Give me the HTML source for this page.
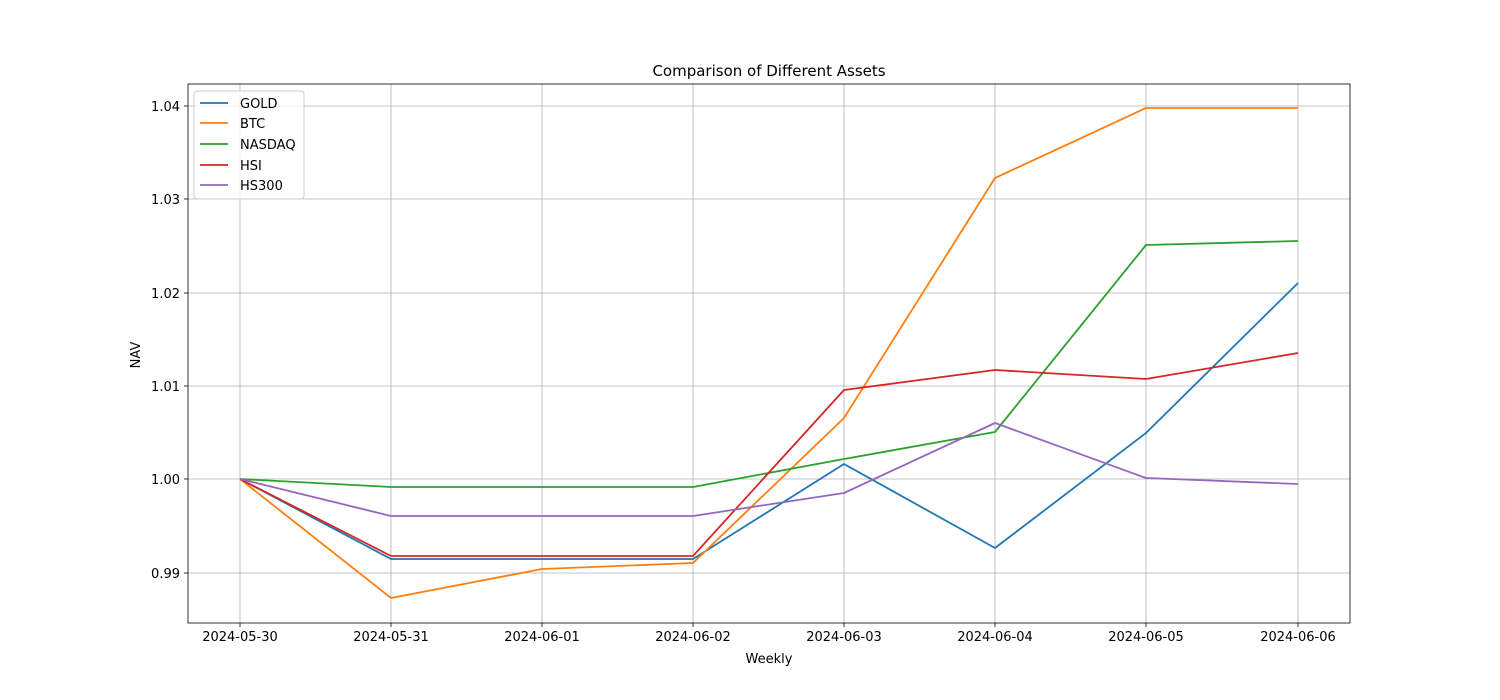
<!DOCTYPE html>
<html><head><meta charset="utf-8"><style>body{margin:0;background:#fff}svg{display:block}text{font-family:"DejaVu Sans","Liberation Sans",sans-serif;fill:#000}</style></head><body>
<svg width="1500" height="700" viewBox="0 0 1500 700">
<rect width="1500" height="700" fill="#fff"/>
<g stroke="#b0b0b0" stroke-width="0.8">
<line x1="240" y1="84" x2="240" y2="623"/><line x1="391" y1="84" x2="391" y2="623"/><line x1="542" y1="84" x2="542" y2="623"/><line x1="693" y1="84" x2="693" y2="623"/><line x1="844" y1="84" x2="844" y2="623"/><line x1="995" y1="84" x2="995" y2="623"/><line x1="1146" y1="84" x2="1146" y2="623"/><line x1="1298" y1="84" x2="1298" y2="623"/>
<line x1="188" y1="573" x2="1350" y2="573"/><line x1="188" y1="479" x2="1350" y2="479"/><line x1="188" y1="386" x2="1350" y2="386"/><line x1="188" y1="293" x2="1350" y2="293"/><line x1="188" y1="199" x2="1350" y2="199"/><line x1="188" y1="106" x2="1350" y2="106"/>
</g>
<g fill="none" stroke-width="1.8" stroke-linejoin="round">
<polyline stroke="#1f77b4" points="240,479 391,559 542,559 693,559 844,464 995,548 1146,433 1298,283"/>
<polyline stroke="#ff7f0e" points="240,479 391,598 542,569 693,563 844,418 995,178 1146,108 1298,108"/>
<polyline stroke="#2ca02c" points="240,479 391,487 542,487 693,487 844,459 995,432 1146,245 1298,241"/>
<polyline stroke="#d62728" points="240,479 391,556 542,556 693,556 844,390 995,370 1146,379 1298,353"/>
<polyline stroke="#9467bd" points="240,479 391,516 542,516 693,516 844,493 995,423 1146,478 1298,484"/>
</g>
<rect x="188" y="84" width="1162" height="539" fill="none" stroke="#000" stroke-width="0.8"/>
<g stroke="#000" stroke-width="0.8">
<line x1="240" y1="623" x2="240" y2="627"/><line x1="391" y1="623" x2="391" y2="627"/><line x1="542" y1="623" x2="542" y2="627"/><line x1="693" y1="623" x2="693" y2="627"/><line x1="844" y1="623" x2="844" y2="627"/><line x1="995" y1="623" x2="995" y2="627"/><line x1="1146" y1="623" x2="1146" y2="627"/><line x1="1298" y1="623" x2="1298" y2="627"/>
<line x1="184" y1="573" x2="188" y2="573"/><line x1="184" y1="479" x2="188" y2="479"/><line x1="184" y1="386" x2="188" y2="386"/><line x1="184" y1="293" x2="188" y2="293"/><line x1="184" y1="199" x2="188" y2="199"/><line x1="184" y1="106" x2="188" y2="106"/>
</g>
<g font-size="13" text-anchor="middle">
<text x="240" y="641">2024-05-30</text><text x="391" y="641">2024-05-31</text><text x="542" y="641">2024-06-01</text><text x="693" y="641">2024-06-02</text><text x="844" y="641">2024-06-03</text><text x="995" y="641">2024-06-04</text><text x="1146" y="641">2024-06-05</text><text x="1298" y="641">2024-06-06</text>
</g>
<g font-size="13" text-anchor="end">
<text x="180" y="578">0.99</text><text x="180" y="484">1.00</text><text x="180" y="391">1.01</text><text x="180" y="298">1.02</text><text x="180" y="204">1.03</text><text x="180" y="111">1.04</text>
</g>
<text x="769" y="663" font-size="13" text-anchor="middle">Weekly</text>
<text transform="translate(140,355) rotate(-90)" font-size="13" text-anchor="middle">NAV</text>
<text x="769" y="76" font-size="15" text-anchor="middle">Comparison of Different Assets</text>
<rect x="194" y="91" width="110" height="108" fill="#fff" fill-opacity="0.8" stroke="#ccc" rx="3"/>
<g stroke-width="1.8">
<line x1="200" y1="103" x2="228" y2="103" stroke="#1f77b4"/>
<line x1="200" y1="123" x2="228" y2="123" stroke="#ff7f0e"/>
<line x1="200" y1="144" x2="228" y2="144" stroke="#2ca02c"/>
<line x1="200" y1="165" x2="228" y2="165" stroke="#d62728"/>
<line x1="200" y1="185" x2="228" y2="185" stroke="#9467bd"/>
</g>
<g font-size="13">
<text x="240" y="108">GOLD</text><text x="240" y="128">BTC</text><text x="240" y="149">NASDAQ</text><text x="240" y="170">HSI</text><text x="240" y="190">HS300</text>
</g>
</svg>
</body></html>
